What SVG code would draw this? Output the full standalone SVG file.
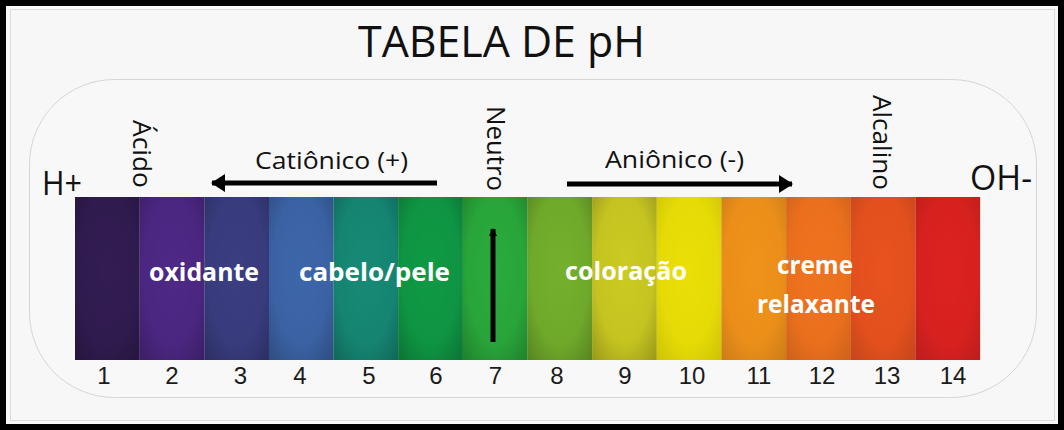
<svg xmlns="http://www.w3.org/2000/svg" width="1064" height="430" viewBox="0 0 1064 430">
  <defs>
    <radialGradient id="vig" cx="0.5" cy="0.45" r="0.75">
      <stop offset="0" stop-color="#000" stop-opacity="0"/>
      <stop offset="0.6" stop-color="#000" stop-opacity="0.04"/>
      <stop offset="1" stop-color="#000" stop-opacity="0.26"/>
    </radialGradient>
    <marker id="head" viewBox="0 0 14 18" refX="13" refY="9" markerWidth="14" markerHeight="18" markerUnits="userSpaceOnUse" orient="auto">
      <path d="M0,0 L14,9 L0,18 Z" fill="#000"/>
    </marker>
    <marker id="headS" viewBox="0 0 8 8" refX="7" refY="4" markerWidth="8" markerHeight="9" markerUnits="userSpaceOnUse" orient="auto">
      <path d="M0,0 L8,4 L0,8 Z" fill="#000"/>
    </marker>
  </defs>
  <style>
    .lbl { font-family: "Open Sans", "Liberation Sans", sans-serif; fill: #111; }
    .num { font-family: "Liberation Sans", Arial, sans-serif; font-size: 24px; fill: #1a1a1a; text-anchor: middle; }
    .band-lbl { font-family: "Open Sans", "Liberation Sans", sans-serif; font-weight: bold; font-size: 25px; fill: #fff; }
    .arrow { stroke: #000; stroke-width: 5; fill: none; }
  </style>

  <!-- frame -->
  <rect x="0" y="0" width="1064" height="430" fill="#000"/>
  <rect x="6" y="6" width="1052" height="418" fill="#f7f7f7"/>
  <rect x="10.5" y="9.5" width="1044" height="411" fill="none" stroke="#dcdcdc" stroke-width="1"/>

  <!-- rounded panel -->
  <rect x="29.5" y="79.5" width="1007" height="318" rx="85" ry="85" fill="#f8f8f8" stroke="#d6d6d6" stroke-width="1"/>

  <!-- title -->
  <text id="title" class="lbl" x="358" y="57" font-size="44" textLength="287" lengthAdjust="spacingAndGlyphs">TABELA DE pH</text>

  <!-- pH bar -->
  <g id="bar">
    <g id="band1"><rect x="75" y="197" width="64.7" height="163" fill="#321c52"/><rect x="75" y="197" width="64.7" height="163" fill="url(#vig)"/></g>
    <g id="band2"><rect x="139.6" y="197" width="64.7" height="163" fill="#4e2886"/><rect x="139.6" y="197" width="64.7" height="163" fill="url(#vig)"/></g>
    <g id="band3"><rect x="204.3" y="197" width="64.7" height="163" fill="#3a3e82"/><rect x="204.3" y="197" width="64.7" height="163" fill="url(#vig)"/></g>
    <g id="band4"><rect x="268.9" y="197" width="64.7" height="163" fill="#3d66aa"/><rect x="268.9" y="197" width="64.7" height="163" fill="url(#vig)"/></g>
    <g id="band5"><rect x="333.6" y="197" width="64.7" height="163" fill="#168a76"/><rect x="333.6" y="197" width="64.7" height="163" fill="url(#vig)"/></g>
    <g id="band6"><rect x="398.2" y="197" width="64.7" height="163" fill="#0f9a45"/><rect x="398.2" y="197" width="64.7" height="163" fill="url(#vig)"/></g>
    <g id="band7"><rect x="462.9" y="197" width="64.7" height="163" fill="#2aab3c"/><rect x="462.9" y="197" width="64.7" height="163" fill="url(#vig)"/></g>
    <g id="band8"><rect x="527.5" y="197" width="64.7" height="163" fill="#74b02c"/><rect x="527.5" y="197" width="64.7" height="163" fill="url(#vig)"/></g>
    <g id="band9"><rect x="592.1" y="197" width="64.7" height="163" fill="#cccb22"/><rect x="592.1" y="197" width="64.7" height="163" fill="url(#vig)"/></g>
    <g id="band10"><rect x="656.8" y="197" width="64.7" height="163" fill="#eadf06"/><rect x="656.8" y="197" width="64.7" height="163" fill="url(#vig)" opacity="0.5"/></g>
    <g id="band11"><rect x="721.4" y="197" width="64.7" height="163" fill="#f0921a"/><rect x="721.4" y="197" width="64.7" height="163" fill="url(#vig)" opacity="0.6"/></g>
    <g id="band12"><rect x="786.1" y="197" width="64.7" height="163" fill="#f0721e"/><rect x="786.1" y="197" width="64.7" height="163" fill="url(#vig)" opacity="0.6"/></g>
    <g id="band13"><rect x="850.7" y="197" width="64.7" height="163" fill="#e8521e"/><rect x="850.7" y="197" width="64.7" height="163" fill="url(#vig)" opacity="0.6"/></g>
    <g id="band14"><rect x="915.4" y="197" width="64.7" height="163" fill="#dc2220"/><rect x="915.4" y="197" width="64.7" height="163" fill="url(#vig)" opacity="0.6"/></g>
  </g>

  <!-- band labels -->
  <g id="label-oxidante"><text class="band-lbl" x="149" y="281" textLength="110" lengthAdjust="spacingAndGlyphs">oxidante</text></g>
  <g id="label-cabelo"><text class="band-lbl" x="299" y="281" textLength="151" lengthAdjust="spacingAndGlyphs">cabelo/pele</text></g>
  <g id="label-coloracao"><text class="band-lbl" x="565" y="280" textLength="122" lengthAdjust="spacingAndGlyphs">coloração</text></g>
  <g id="label-creme">
    <text class="band-lbl" x="777" y="274" textLength="76" lengthAdjust="spacingAndGlyphs">creme</text>
    <text class="band-lbl" x="757" y="313" textLength="118" lengthAdjust="spacingAndGlyphs">relaxante</text>
  </g>

  <!-- numbers -->
  <g id="numbers">
    <text class="num" x="104" y="384">1</text>
    <text class="num" x="172" y="384">2</text>
    <text class="num" x="240.5" y="384">3</text>
    <text class="num" x="300" y="384">4</text>
    <text class="num" x="369" y="384">5</text>
    <text class="num" x="436" y="384">6</text>
    <text class="num" x="495.5" y="384">7</text>
    <text class="num" x="557" y="384">8</text>
    <text class="num" x="625" y="384">9</text>
    <text class="num" x="692" y="384">10</text>
    <text class="num" x="759" y="384">11</text>
    <text class="num" x="822" y="384">12</text>
    <text class="num" x="887" y="384">13</text>
    <text class="num" x="953" y="384">14</text>
  </g>

  <!-- side labels -->
  <g id="h-plus"><text class="lbl" x="42" y="195" font-size="33" textLength="40" lengthAdjust="spacingAndGlyphs">H+</text></g>
  <g id="oh-minus"><text class="lbl" x="970" y="190" font-size="34" textLength="62" lengthAdjust="spacingAndGlyphs">OH-</text></g>

  <g id="acido"><text class="lbl" transform="translate(133,120) rotate(90)" font-size="25" textLength="68" lengthAdjust="spacingAndGlyphs">Ácido</text></g>
  <g id="neutro"><text class="lbl" transform="translate(487,106) rotate(90)" font-size="25" textLength="85" lengthAdjust="spacingAndGlyphs">Neutro</text></g>
  <g id="alcalino"><text class="lbl" transform="translate(873,95) rotate(90)" font-size="25" textLength="95" lengthAdjust="spacingAndGlyphs">Alcalino</text></g>

  <g id="cationico"><text class="lbl" x="255" y="169" font-size="24" textLength="153" lengthAdjust="spacingAndGlyphs">Catiônico (+)</text></g>
  <g id="anionico"><text class="lbl" x="605" y="168" font-size="24" textLength="139" lengthAdjust="spacingAndGlyphs">Aniônico (-)</text></g>

  <!-- connectors -->
  <g id="connectors">
    <line class="arrow" x1="437" y1="183" x2="212" y2="183" marker-end="url(#head)"/>
    <line class="arrow" x1="567" y1="184" x2="792" y2="184" marker-end="url(#head)"/>
    <line class="arrow" x1="493" y1="342" x2="493" y2="229" stroke-width="4.5" marker-end="url(#headS)"/>
  </g>
</svg>
